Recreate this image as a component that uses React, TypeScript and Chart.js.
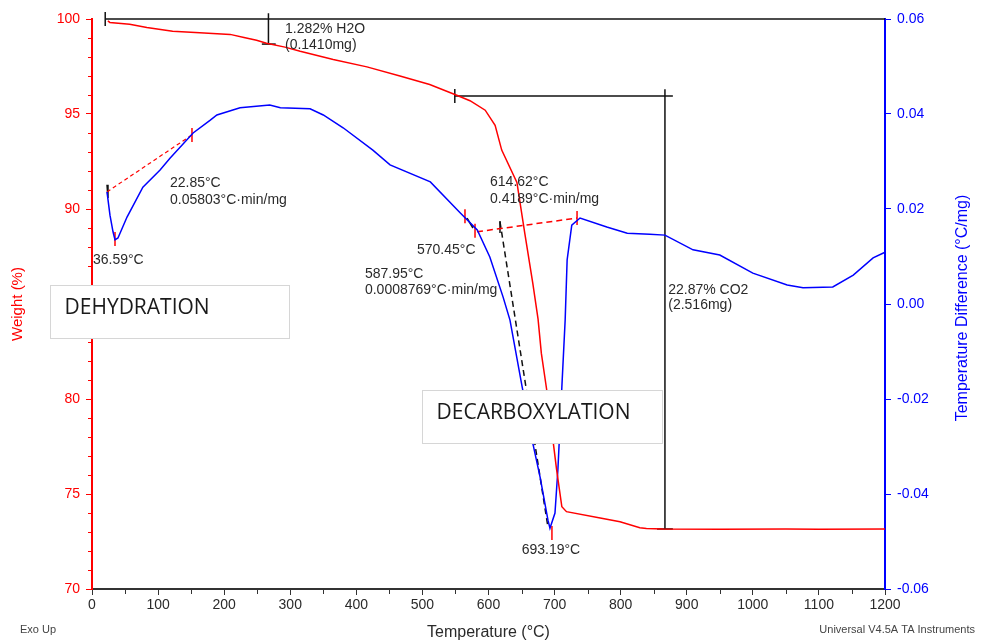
import React, { useEffect, useRef } from 'react';
import { Chart, registerables } from 'chart.js';

Chart.register(...registerables);

// ---- TGA weight curve (temperature °C, weight %) ----
const WEIGHT_T = [24, 27, 57, 83, 122, 163, 209, 230, 249, 264, 292, 315, 365, 416, 466, 511, 551, 572, 595, 610, 620, 643, 655, 667, 675, 680, 688, 698, 703, 711, 718, 769, 799, 829, 839, 864, 950, 1050, 1100, 1200];
const WEIGHT_W = [99.9, 99.82, 99.72, 99.55, 99.36, 99.28, 99.19, 99.03, 98.88, 98.72, 98.52, 98.3, 97.87, 97.48, 97.0, 96.55, 96.0, 95.7, 95.2, 94.4, 93.1, 91.4, 88.7, 86.1, 84.2, 82.4, 80.5, 77.7, 76.3, 74.33, 74.07, 73.74, 73.54, 73.22, 73.19, 73.16, 73.14, 73.16, 73.15, 73.16];

// ---- DTA curve (temperature °C, temperature difference °C/mg) ----
const DTA_T = [22.7, 27.2, 31.8, 34.8, 39.3, 53, 77, 103, 118, 153, 179, 189, 224, 269, 285, 330, 350, 380, 425, 451, 512, 557, 583, 602, 622, 632.5, 651, 667, 678, 690, 693, 700.6, 705, 711, 716, 719, 726, 738.5, 779, 810, 844, 867, 909.5, 950, 1000, 1052, 1076, 1121, 1152, 1182, 1200];
const DTA_V = [0.0236, 0.0187, 0.0152, 0.0135, 0.0139, 0.0183, 0.0246, 0.0282, 0.0307, 0.036, 0.0387, 0.0398, 0.0413, 0.0419, 0.0413, 0.0411, 0.0398, 0.0371, 0.0324, 0.0293, 0.0257, 0.0192, 0.0156, 0.0099, 0.0015, -0.0034, -0.0175, -0.0293, -0.0364, -0.0455, -0.0472, -0.044, -0.0349, -0.0175, -0.0034, 0.0093, 0.0166, 0.0181, 0.0162, 0.0149, 0.0147, 0.0145, 0.0114, 0.0103, 0.0065, 0.004, 0.0034, 0.0036, 0.0061, 0.0097, 0.0109];

// ---- onset / tangent constructions on the DTA axis ----
const TAN_DEHYD_T = [22.7, 151.3];
const TAN_DEHYD_V = [0.0236, 0.0356];
const BASE_DECARB_T = [582.6, 734];
const BASE_DECARB_V = [0.0152, 0.0181];
const TAN_DECARB_T = [617.4, 690];
const TAN_DECARB_V = [0.0173, -0.047];
const ONSET_SEG_T = [567.5, 576.5];
const ONSET_SEG_V = [0.0181, 0.016];
const START_SEG_T = [22.7, 24.2];
const START_SEG_V = [0.0251, 0.0223];
const RED_MARK_T = [151.3, 34.8, 564.4, 579.6, 734, 696];
const RED_MARK_V = [0.0356, 0.0137, 0.0185, 0.0154, 0.0181, -0.0482];
const BLACK_MARK_T = [617.4];
const BLACK_MARK_V = [0.0162];

// ---- weight-step brackets on the weight axis ----
const H2O_LINE_T = [20, 1200];
const H2O_LINE_W = [100, 100];
const H2O_STEP_T = [267, 267];
const H2O_STEP_W = [100.3, 98.68];
const H2O_FOOT_T = [257, 278];
const H2O_FOOT_W = [98.68, 98.68];
const CO2_LINE_T = [549, 879];
const CO2_LINE_W = [95.95, 95.95];
const CO2_STEP_T = [867, 867];
const CO2_STEP_W = [96.3, 73.16];
const CO2_FOOT_T = [855, 879];
const CO2_FOOT_W = [73.16, 73.16];
const BRACKET_MARK_T = [20, 549];
const BRACKET_MARK_W = [100, 95.95];

// ---- annotation texts (anchored in temperature / weight units) ----
const NOTE_TEXT = ['1.282% H2O', '(0.1410mg)', '22.85°C', '0.05803°C·min/mg', '36.59°C', '614.62°C', '0.4189°C·min/mg', '570.45°C', '587.95°C', '0.0008769°C·min/mg', '693.19°C', '22.87% CO2', '(2.516mg)'];
const NOTE_T = [292, 292, 118, 118, 1.5, 602.3, 602.3, 491.8, 413, 413, 650.2, 872, 872];
const NOTE_W = [99.47, 98.63, 91.37, 90.47, 87.32, 91.42, 90.53, 87.84, 86.58, 85.74, 72.05, 85.74, 84.95];

// ---- labelled boxes ----
const BOX_TEXT = ['DEHYDRATION', 'DECARBOXYLATION'];
const BOX_T0 = [-63.6, 499.4];
const BOX_T1 = [298, 862.6];
const BOX_W0 = [86.0, 80.47];
const BOX_W1 = [83.21, 77.68];

// ---- axes ----
const X_MIN = 0, X_MAX = 1200, X_STEP = 100, X_MINOR = 50;
const W_MIN = 70, W_MAX = 100, W_STEP = 5, W_MINOR = 1;
const V_MIN = -0.06, V_MAX = 0.06, V_STEP = 0.02;
const RIGHT_TITLE = 'Temperature Difference (°C/mg)';

const RED = '#ff0000';
const BLUE = '#0000ff';
const INK = '#2a2a2a';
const FONT = "'Liberation Sans', Arial, sans-serif";

const pts = (xs: number[], ys: number[]) => xs.map((x, i) => ({ x, y: ys[i] }));

const decorPlugin = {
  id: 'decor',
  afterDraw(chart: any) {
    const { ctx, chartArea, scales } = chart;
    const sx = scales.x, sy = scales.y;
    ctx.save();
    // minor ticks
    ctx.lineWidth = 1;
    ctx.strokeStyle = RED;
    for (let v = W_MIN; v <= W_MAX; v += W_MINOR) {
      if (v % W_STEP === 0) continue;
      const py = Math.round(sy.getPixelForValue(v)) + 0.5;
      ctx.beginPath();
      ctx.moveTo(chartArea.left - 4, py);
      ctx.lineTo(chartArea.left, py);
      ctx.stroke();
    }
    ctx.strokeStyle = '#333';
    for (let v = X_MIN; v <= X_MAX; v += X_MINOR) {
      if (v % X_STEP === 0) continue;
      const px = Math.round(sx.getPixelForValue(v)) + 0.5;
      ctx.beginPath();
      ctx.moveTo(px, chartArea.bottom);
      ctx.lineTo(px, chartArea.bottom + 5);
      ctx.stroke();
    }
    // right axis title, reading bottom-to-top
    ctx.save();
    ctx.translate(963, (chartArea.top + chartArea.bottom) / 2 + 4);
    ctx.rotate(-Math.PI / 2);
    ctx.fillStyle = BLUE;
    ctx.font = `16px ${FONT}`;
    ctx.textAlign = 'center';
    ctx.textBaseline = 'middle';
    ctx.fillText(RIGHT_TITLE, 0, 0);
    ctx.restore();
    // notes
    ctx.fillStyle = INK;
    ctx.font = `14px ${FONT}`;
    ctx.textAlign = 'left';
    ctx.textBaseline = 'middle';
    NOTE_TEXT.forEach((t, i) => {
      ctx.fillText(t, sx.getPixelForValue(NOTE_T[i]), sy.getPixelForValue(NOTE_W[i]));
    });
    // boxes
    BOX_TEXT.forEach((t, i) => {
      const x0 = Math.round(sx.getPixelForValue(BOX_T0[i])) + 0.5;
      const x1 = Math.round(sx.getPixelForValue(BOX_T1[i])) + 0.5;
      const y0 = Math.round(sy.getPixelForValue(BOX_W0[i])) + 0.5;
      const y1 = Math.round(sy.getPixelForValue(BOX_W1[i])) + 0.5;
      ctx.fillStyle = '#ffffff';
      ctx.fillRect(x0, y0, x1 - x0, y1 - y0);
      ctx.strokeStyle = '#d6d6d6';
      ctx.lineWidth = 1;
      ctx.strokeRect(x0, y0, x1 - x0, y1 - y0);
      ctx.fillStyle = '#1a1a1a';
      ctx.font = `21px 'Open Sans', sans-serif`;
      ctx.textBaseline = 'middle';
      ctx.textAlign = 'left';
      ctx.fillText(t, x0 + 14, y0 + 23);
    });
    // footer texts
    ctx.fillStyle = '#444';
    ctx.font = `11px ${FONT}`;
    ctx.textBaseline = 'middle';
    ctx.textAlign = 'left';
    ctx.fillText('Exo Up', 20, chartArea.bottom + 41);
    ctx.textAlign = 'right';
    ctx.fillText('Universal V4.5A TA Instruments', 975, chartArea.bottom + 41);
    ctx.restore();
  },
};

export default function App() {
  const ref = useRef<HTMLCanvasElement | null>(null);
  useEffect(() => {
    if (!ref.current) return;
    const line = (data: any[], yAxisID: string, color: string, width: number, dash: number[] = []) => ({
      data,
      yAxisID,
      borderColor: color,
      backgroundColor: color,
      borderWidth: width,
      borderDash: dash,
      pointRadius: 0,
      showLine: true,
      fill: false,
      tension: 0,
      clip: false as any,
    });
    const marks = (data: any[], yAxisID: string, color: string, r: number) => ({
      data,
      yAxisID,
      showLine: false,
      pointStyle: 'line',
      rotation: 90,
      pointRadius: r,
      borderColor: color,
      backgroundColor: color,
      pointBorderWidth: 1.5,
      borderWidth: 1.5,
      clip: false as any,
    });
    const chart = new Chart(ref.current, {
      type: 'scatter',
      data: {
        datasets: [
          line(pts(WEIGHT_T, WEIGHT_W), 'y', RED, 1.5),
          line(pts(DTA_T, DTA_V), 'y1', BLUE, 1.5),
          line(pts(TAN_DEHYD_T, TAN_DEHYD_V), 'y1', RED, 1.2, [4, 3]),
          line(pts(BASE_DECARB_T, BASE_DECARB_V), 'y1', RED, 1.5, [6, 4]),
          line(pts(TAN_DECARB_T, TAN_DECARB_V), 'y1', '#111', 1.5, [6, 4]),
          line(pts(ONSET_SEG_T, ONSET_SEG_V), 'y1', '#111', 1.5),
          line(pts(START_SEG_T, START_SEG_V), 'y1', '#111', 1.5),
          marks(pts(RED_MARK_T, RED_MARK_V), 'y1', RED, 7),
          marks(pts(BLACK_MARK_T, BLACK_MARK_V), 'y1', '#111', 6),
          line(pts(H2O_LINE_T, H2O_LINE_W), 'y', '#111', 1.5),
          line(pts(H2O_STEP_T, H2O_STEP_W), 'y', '#111', 1.5),
          line(pts(H2O_FOOT_T, H2O_FOOT_W), 'y', '#111', 1.5),
          line(pts(CO2_LINE_T, CO2_LINE_W), 'y', '#111', 1.5),
          line(pts(CO2_STEP_T, CO2_STEP_W), 'y', '#111', 1.5),
          line(pts(CO2_FOOT_T, CO2_FOOT_W), 'y', '#111', 1.5),
          marks(pts(BRACKET_MARK_T, BRACKET_MARK_W), 'y', '#111', 7),
        ],
      },
      options: {
        responsive: false,
        animation: false,
        devicePixelRatio: 1,
        events: [],
        layout: { padding: { top: 19, left: 0, right: 0, bottom: 0 } },
        plugins: { legend: { display: false }, tooltip: { enabled: false } },
        scales: {
          x: {
            type: 'linear',
            position: 'bottom',
            min: X_MIN,
            max: X_MAX,
            afterFit: (s: any) => { s.height = 54; },
            ticks: { stepSize: X_STEP, color: INK, font: { size: 14, family: FONT }, padding: 2, maxRotation: 0, autoSkip: false, callback: (v: any) => String(v) },
            grid: { drawOnChartArea: false, drawTicks: true, tickLength: 6, color: '#333' },
            border: { display: true, color: '#333', width: 2 },
            title: { display: true, text: 'Temperature (°C)', color: INK, font: { size: 16, family: FONT }, padding: { top: 0, bottom: 1 } },
          },
          y: {
            type: 'linear',
            position: 'left',
            min: W_MIN,
            max: W_MAX,
            afterFit: (s: any) => { s.width = 92; },
            ticks: { stepSize: W_STEP, color: RED, font: { size: 14, family: FONT }, padding: 6 },
            grid: { drawOnChartArea: false, drawTicks: true, tickLength: 6, color: RED },
            border: { display: true, color: RED, width: 2 },
            title: { display: true, text: 'Weight (%)', color: RED, font: { size: 15, family: FONT }, padding: { top: 9, bottom: 0 } },
          },
          y1: {
            type: 'linear',
            position: 'right',
            min: V_MIN,
            max: V_MAX,
            afterFit: (s: any) => { s.width = 102; },
            ticks: {
              stepSize: V_STEP,
              color: BLUE,
              font: { size: 14, family: FONT },
              padding: 6,
              callback: (v: any) => (Math.abs(Number(v)) < 1e-9 ? '0.00' : Number(v).toFixed(2)),
            },
            grid: { drawOnChartArea: false, drawTicks: true, tickLength: 6, color: BLUE },
            border: { display: true, color: BLUE, width: 2 },
            title: { display: false },
          },
        },
      } as any,
      plugins: [decorPlugin as any],
    });
    return () => chart.destroy();
  }, []);
  return (
    <div style={{ position: 'fixed', left: 0, top: 0, width: 987, height: 643, background: '#fff' }}>
      <canvas ref={ref} width={987} height={643} style={{ display: 'block', width: 987, height: 643 }} />
    </div>
  );
}
